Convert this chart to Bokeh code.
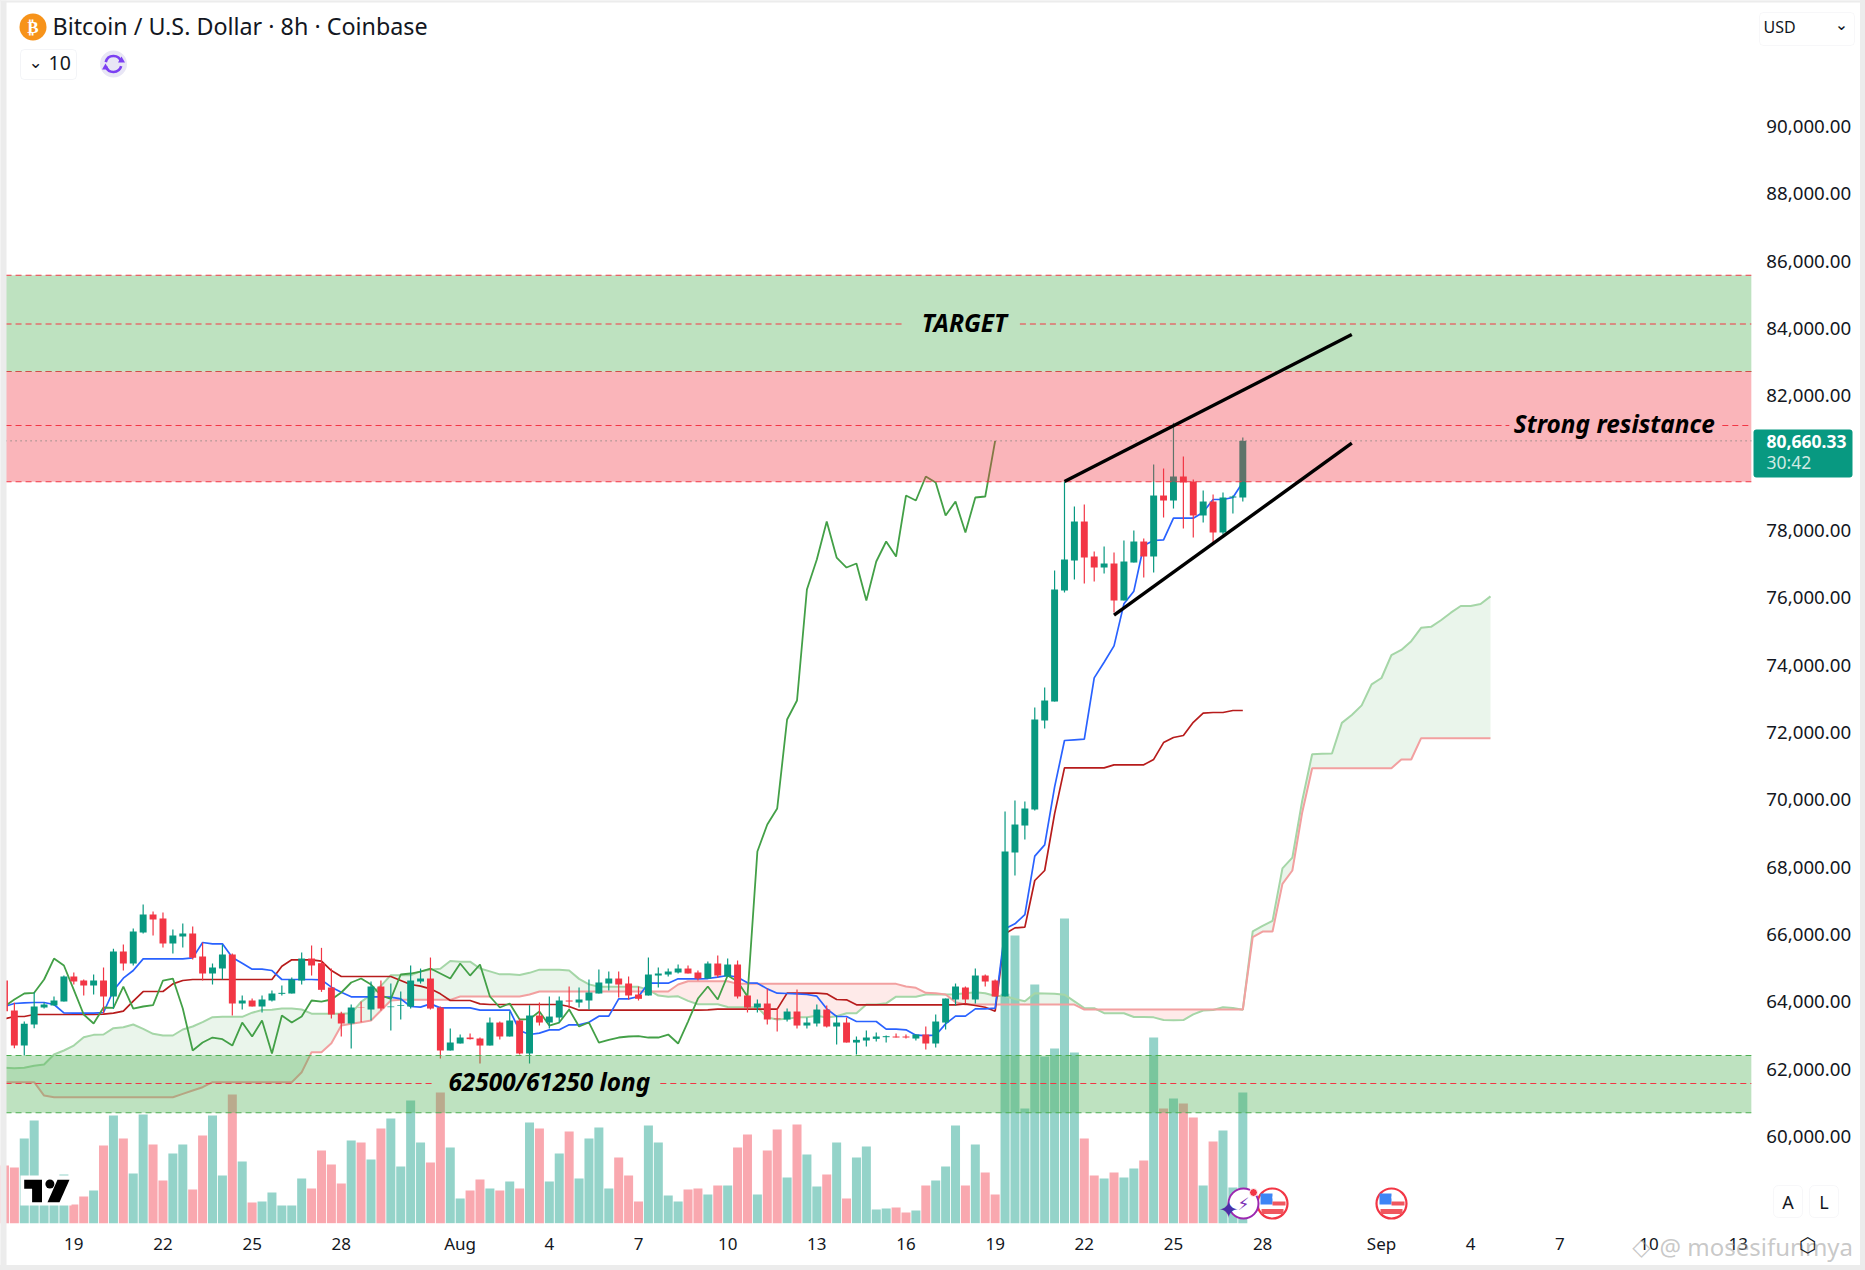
from bokeh.plotting import figure
from bokeh.models import (Range1d, LinearAxis, FixedTicker, NumeralTickFormatter, Label, BoxAnnotation)
from bokeh.embed import file_html
from bokeh.resources import INLINE
from bokeh.core.properties import value
import numpy as np

TITLE = "Bitcoin / U.S. Dollar · 8h · Coinbase"
LAST_PRICE = 80660.33

first_bar = -7
opens = [64633,63742,62702,63326,63831,63890,64009,64752,64633,64484,64633,64158,65494,65138,66059,66593,66474,65732,65940,66029,65346,64841,64989,65405,63950,64039,63861,64039,64237,64247,64633,65286,
65148,64425,63653,63356,63831,63771,64455,63841,63880,63861,64603,64692,63831,62554,62762,62940,62910,62702,63385,62970,63445,62465,63593,63385,63534,64039,63979,64039,64247,64544,64692,64544,64217,
64188,64781,64811,64871,64989,64871,64692,65138,64752,65108,64188,63831,63950,63504,63475,63712,63296,63356,63771,63267,63385,62791,62851,62900,62950,62970,62970,62910,63029,62762,63385,64069,
64425,64069,64781,64633,64158,68435,69236,69712,72355,72919,76216,77107,78265,77226,76899,77018,75919,77047,77671,77226,79037,78889,79602,79453,78444,78859,77939,78978,78978]
highs = [64650,63970,63415,64286,63980,64158,64782,64870,64663,64811,65019,65574,65702,66177,66890,66682,66653,66148,66326,66237,65762,65138,65702,65435,64188,64098,64188,64336,64484,64722,65465,65673,
65603,64989,63702,63920,64009,64603,64633,64544,64306,65079,64989,65316,63861,63207,63029,63059,62940,63534,63415,63712,63504,63900,63980,64158,64158,64455,64425,64663,64960,64900,64900,64752,64455,
65316,65019,64989,65108,65079,64930,65198,65375,65286,65227,64188,64069,64395,63801,63801,64365,63534,63920,63890,63593,63534,62970,63148,63089,63000,63059,63029,63029,63267,63623,64098,64544,
64455,64989,64811,64663,69652,69979,69949,72741,73335,76810,79453,78711,78770,77374,77523,77344,77701,77998,77760,79958,79839,81196,80196,79513,79186,79067,79127,79037,80760]
lows = [63700,62623,62405,63217,63801,63890,64009,64514,64188,64217,63643,63791,64930,65079,66029,65970,65613,65435,65613,65257,64633,64514,64663,63593,63772,63861,63682,64009,64188,64247,64514,64781,
64296,63504,62970,62613,63395,63445,63742,63148,63475,63801,64544,63772,62316,62554,62762,62881,62168,62702,62881,62970,62435,62168,63296,63207,63385,63801,63831,63771,64247,64336,64128,64069,64039,
64188,64425,64752,64841,64841,64633,64692,64722,64752,64098,63683,63683,63326,63118,63415,63207,63207,63267,63237,62732,62791,62435,62673,62821,62792,62940,62910,62851,62584,62643,63178,63890,
63950,63950,64455,64158,64158,67751,68821,69682,72117,72919,76157,76543,76424,76483,76721,75563,75919,77047,76602,76751,78384,78651,78057,77790,78236,77642,77879,78503,78859]
closes = [63722,62702,63346,63861,63920,64039,64752,64603,64484,64633,64158,65494,65138,66088,66593,66445,65732,65970,66029,65306,64841,65019,65405,63950,64039,63861,64069,64247,64267,64663,65286,65079,
64356,63623,63356,63831,63821,64455,63801,63861,63900,64633,64692,63801,62554,62792,62940,62891,62702,63385,62970,63445,62465,63593,63385,63563,64039,64009,64069,64277,64574,64692,64514,64188,64089,
64811,64841,64900,64989,64841,64692,65138,64781,65108,64158,63831,63950,63475,63484,63712,63296,63385,63771,63267,63385,62791,62871,62940,62970,62980,62940,62940,63029,62762,63415,64098,64455,
64069,64781,64603,64158,68464,69266,69741,72385,72949,76246,77137,78265,77196,76899,77018,75919,77077,77671,77226,79037,78889,79602,79424,78444,78859,77939,78978,79008,80660]
volumes = [173,167,254,308,100,100,146,56,80,98,233,323,254,149,326,236,128,209,236,101,263,323,143,386,185,62,65,92,53,53,134,104,218,176,119,248,242,191,284,314,170,368,242,182,392,227,74,98,131,104,98,125,104,302,284,125,209,275,134,254,287,104,197,
143,65,293,242,83,65,101,104,86,113,113,227,266,86,218,281,137,296,206,110,146,242,74,197,230,41,44,47,32,38,113,128,170,293,113,236,152,86,688,863,344,716,500,524,914,512,254,143,134,152,137,164,188,557,344,374,359,317,113,245,278,107,392]
tenkan = [63861,63950,63970,63980,63980,63920,63673,63663,63663,63663,63683,64336,64702,64930,65276,65276,65276,65276,65276,65306,65762,65722,65722,65316,65148,64970,64970,64930,64663,64663,64663,64663,64653,64435,64287,64148,64148,64148,64148,64138,64089,63861,63841,63940,63821,63821,63821,63821,63752,63752,63752,63752,63148,63029,63069,63168,63168,63316,63316,63395,63574,63574,64089,64089,64158,64554,64554,64554,64683,64683,64683,64692,64732,64781,64732,64564,64554,64385,64257,64247,64237,64217,64168,63792,63564,63564,63415,63415,63415,63188,63188,63168,63009,62999,63009,63346,63574,63574,63791,63791,63811,66167,66316,66593,68326,68662,70375,71761,71781,71800,73622,74087,74573,75820,76196,77552,77701,77721,78364,78364,78364,78542,78919,78919,78978,79433]
kijun = [63495,63564,63564,63623,63623,63623,63623,63623,63623,63623,63633,63663,63722,64019,64306,64306,64306,64534,64633,64663,64663,64663,64663,64663,64663,64663,64663,64663,65059,65247,65247,65247,65207,64930,64752,64752,64752,64752,64752,64752,64633,64514,64465,64385,64237,64039,64039,64039,63940,63920,63920,63920,63920,63920,63920,63920,63920,63861,63752,63752,63752,63752,63752,63752,63752,63752,63752,63752,63752,63752,63752,63762,63782,63782,63782,63782,63782,63782,63782,64257,64257,64257,64257,64237,64069,64059,63910,63910,63910,63910,63910,63910,63910,63910,63910,63910,63910,63940,63890,63840,63722,66019,66197,66217,67603,67900,69583,70949,70949,70949,70949,70949,71038,71038,71038,71038,71200,71700,71850,71910,72300,72573,72593,72593,72652,72652]
chikou = [63861,64069,64247,64267,64663,65286,65079,64356,63623,63356,63831,63821,64455,63801,63861,63900,64633,64692,63801,62554,62792,62940,62891,62702,63385,62970,63445,62465,63593,63385,63563,64039,64009,64069,64277,64574,64692,64514,64188,64089,64811,64841,64900,64989,64841,64692,65138,64781,65108,64158,63831,63950,63475,63484,63712,63296,63385,63771,63267,63385,62791,62871,62940,62970,62980,62940,62940,63029,62762,63415,64098,64455,64069,64781,64603,64158,68464,69266,69741,72385,72949,76246,77137,78265,77196,76899,77018,75919,77077,77671,77226,79037,78889,79602,79424,78444,78859,77939,78978,79008,80660]
senkou_a = [62039,62029,62039,62099,62138,62435,62554,62702,62950,63019,63029,63217,63247,63326,63197,63049,63000,63000,63178,63267,63395,63544,63554,63554,63554,
63678,63757,63767,63801,63801,63771,63648,63643,63643,63643,63658,63999,64212,64474,64791,64791,64791,64905,64954,64984,65212,65192,65192,64989,64905,64816,64816,64796,64861,64955,64955,64955,64930,64682,64519,64450,64450,64450,64450,64445,64361,64187,64153,64162,64029,63930,63930,63930,63846,63836,63836,63836,63534,63474,63494,63544,63544,63588,63534,63573,63663,63663,63920,63920,63955,64153,64153,64153,64217,64217,64217,64227,64257,64281,64257,64173,64173,64083,64019,64252,64247,64237,64212,64014,63816,63811,63662,63662,63662,63549,63549,63539,63459,63454,63459,63628,63742,63757,63840,63815,63766,66093,66256,66405,67964,68281,69979,71355,71365,71374,72285,72518,72805,73429,73617,74295,74450,74710,75107,75137,75332,75557,75756,75756,75815,76042]
senkou_b = [61613,61613,61613,61613,61217,61168,61168,61168,61168,61168,61168,61168,61168,61168,61168,61168,61168,61168,61267,61366,61465,61613,61613,61613,61613,61613,61613,61613,61613,61613,61910,62505,62505,62772,63296,63346,63395,63445,63742,64039,64059,64059,64059,64059,64059,64059,64158,64158,64158,64158,64158,64158,64158,64217,64306,64306,64306,64306,64306,64306,64306,64306,64306,64306,64306,64306,64306,64306,64514,64613,64613,64613,64613,64613,64534,64534,64534,64534,64534,64534,64534,64534,64534,64534,64534,64534,64534,64534,64534,64534,64534,64455,64415,64267,64257,64217,63990,63920,63920,63920,63920,63920,63920,63920,63920,63920,63920,63920,63920,63772,63772,63772,63772,63772,63772,63772,63772,63772,63772,63772,63772,63772,63772,63772,63772,63772,65920,66088,66088,67504,67900,69632,70939,70939,70939,70939,70939,70939,70939,70939,70939,71197,71197,71830,71830,71830,71830,71830,71830,71830,71830]

zone_target = [82720, 85580]
target_mid = 84130
zone_resist = [79444, 82720]
resist_mid = 81117
zone_long = [60704, 62406]
long_mid = 61574
wedge_upper = ([100, 129], [79454, 83819])
wedge_lower = ([105, 129], [75483, 80591])
price_ticks = [60000,62000,64000,66000,68000,70000,72000,74000,76000,78000,82000,84000,86000,88000,90000]
date_labels = {0:"19",9:"22",18:"25",27:"28",39:"Aug",48:"4",57:"7",66:"10",75:"13",84:"16",93:"19",102:"22",111:"25",120:"28",132:"Sep",141:"4",150:"7",159:"10",168:"13"}

GREEN, RED = "#089981", "#f23645"
W, H = 1860, 1265
XL, XR = -7.4, 180.35
YB, YT = 56169, 93739
CL, CR = -6.89, 169.33   # chart pane edges

p = figure(width=W, height=H, output_backend="svg", toolbar_location=None,
           x_range=Range1d(XL, XR), y_range=Range1d(YB, YT), x_axis_type=None, y_axis_type=None,
           min_border=0, background_fill_color="white", border_fill_color="white", outline_line_color=None)
p.grid.visible = False
p.extra_y_ranges = {"vol": Range1d(-127, 3668)}

def fx(px): return XL + px / W * (XR - XL)
def fy(py): return YT - py / H * (YT - YB)

bars = np.arange(first_bar, first_bar + len(closes))
o, h, l, c = map(np.array, (opens, highs, lows, closes))
up = c >= o

# volume
p.vbar(bars, 0.91, 0, np.array(volumes), y_range_name="vol",
       color=[GREEN if u else RED for u in up], alpha=0.43, line_color=None)

# cloud
ax = np.arange(first_bar, first_bar + len(senkou_a))
A, B = np.array(senkou_a, float), np.array(senkou_b, float)
p.varea(ax, A, np.minimum(A, B), fill_color="#43a047", fill_alpha=0.11)
p.varea(ax, B, np.minimum(A, B), fill_color="#f44336", fill_alpha=0.11)
p.line(ax, A, line_color="#a5d6a7", line_width=2)
p.line(ax, B, line_color="#f2a0a0", line_width=2)

# lines
p.line(bars, kijun, line_color="#b71c1c", line_width=1.7)
p.line(bars, tenkan, line_color="#2962ff", line_width=1.7)
p.line(np.arange(first_bar, first_bar + len(chikou)), chikou, line_color="#43a047", line_width=1.8)

# candles
cols = [GREEN if u else RED for u in up]
p.segment(bars, l, bars, h, line_color=cols, line_width=1.2)
p.vbar(bars, 0.7, np.minimum(o, c), np.maximum(o, c), color=cols, line_color=None)

# price line
p.line([CL, CR], [LAST_PRICE, LAST_PRICE], line_color=GREEN, line_width=1, line_dash="1 4")

# zones
for z, col in ((zone_target, "#4caf50"), (zone_resist, RED), (zone_long, "#4caf50")):
    p.quad(left=CL, right=CR, bottom=z[0], top=z[1], fill_color=col, fill_alpha=0.37 if col == RED else 0.36, line_color=None)

def hline(x0, x1, y, col, alpha=1.0):
    p.line([x0, x1], [y, y], line_color=col, line_width=1.1, line_dash="6 4", line_alpha=alpha)

hline(CL, CR, zone_target[1], RED)
hline(CL, CR, zone_target[0], "#4caf50")
hline(CL, CR, zone_resist[1], RED, 0.8)
hline(CL, CR, zone_resist[0], RED)
hline(CL, CR, zone_long[0], "#4caf50")
hline(CL, CR, zone_long[1], "#4caf50")
hline(CL, 83.9, target_mid, RED); hline(95.5, CR, target_mid, RED)
hline(CL, 144.9, resist_mid, RED); hline(166.4, CR, resist_mid, RED)
hline(CL, 36.4, long_mid, RED); hline(59.2, CR, long_mid, RED)

# wedge
p.line(*wedge_upper, line_color="black", line_width=3.4)
p.line(*wedge_lower, line_color="black", line_width=3.4)

# annotations
TFONT = value("Noto Sans")
for xv, yv, t in ((89.9, target_mid, "TARGET"), (155.5, resist_mid, "Strong resistance"), (48, long_mid, "62500/61250 long")):
    p.text([xv], [yv], text=[t], text_font=TFONT, text_font_size="24.4px", text_font_style="bold italic",
           text_color="black", text_align="center", text_baseline="middle", y_offset=-2)

# axes
ay = LinearAxis(ticker=FixedTicker(ticks=price_ticks), formatter=NumeralTickFormatter(format="0,0.00"))
ay.axis_line_color = None; ay.major_tick_line_color = None; ay.minor_tick_line_color = None
ay.major_tick_out = 0; ay.major_tick_in = 0
ay.major_label_standoff = 15
ay.major_label_text_font = "Noto Sans"; ay.major_label_text_font_size = "18.7px"; ay.major_label_text_color = "#131722"
ay.fixed_location = CR
p.add_layout(ay, "right")
ax_b = LinearAxis(ticker=FixedTicker(ticks=list(date_labels)), major_label_overrides=date_labels)
ax_b.axis_line_color = None; ax_b.major_tick_line_color = None; ax_b.minor_tick_line_color = None
ax_b.major_tick_out = 0; ax_b.major_tick_in = 0
ax_b.major_label_standoff = 6
ax_b.major_label_text_font = "Noto Sans"; ax_b.major_label_text_font_size = "17px"; ax_b.major_label_text_color = "#131722"
ax_b.fixed_location = fy(1225)
p.add_layout(ax_b, "below")

def box(x0, y0, x1, y1, fill="white", line="#d8dbe3", r=4, alpha=1):
    p.add_layout(BoxAnnotation(left=x0, right=x1, top=y0, bottom=y1, left_units="canvas", right_units="canvas",
                               top_units="canvas", bottom_units="canvas", fill_color=fill, fill_alpha=alpha,
                               line_color=line, border_radius=r, level="overlay"))

def lab(x, y, t, size=18, col="#131722", font="Noto Sans", align="left", style="normal", alpha=1):
    p.add_layout(Label(x=x, y=y, x_units="canvas", y_units="canvas", text=t, text_font=font,
                       text_font_size=f"{size}px", text_color=col, text_align=align, text_baseline="middle",
                       text_font_style=style, text_alpha=alpha, level="overlay"))

# page edge strips
box(0, 0, 6, H, fill="#ececec", line=None, r=0)
box(0, 0, W, 2, fill="#ececec", line=None, r=0)

# header
lab(52, 25, TITLE, 23.3)
p.scatter([fx(32.5)], [fy(26.5)], size=27, color="#f7931a", line_color=None)
lab(32.5, 26, "₿", 17, "white", "DejaVu Sans", "center", "bold")
box(20, 49, 76, 79, r=4)
lab(48, 62, "10", 19.5)
lab(35, 61, "⌄", 17, font="DejaVu Sans", align="center")
p.scatter([fx(113)], [fy(63.5)], size=27, color="#e8e6f5", line_color=None)
p.arc([fx(113)], [fy(63.5)], radius=8, radius_units="screen", start_angle=0.3, end_angle=2.9, line_color="#7b3ff2", line_width=2.6)
p.arc([fx(113)], [fy(63.5)], radius=8, radius_units="screen", start_angle=3.45, end_angle=6.0, line_color="#7b3ff2", line_width=2.6)
p.scatter([fx(121), fx(105)], [fy(60), fy(67)], size=7, marker="triangle", color="#7b3ff2", line_color=None)

# currency box
box(1759, 12, 1854, 45, line="#e4e6ec", r=4)
lab(1763, 26, "USD", 16)
lab(1841, 24, "⌄", 16, font="DejaVu Sans", align="center")

# price tag
box(1753, 429, 1852, 477, fill=GREEN, line=None, r=3)
lab(1766, 441, "80,660.33", 17.5, "white", style="bold")
lab(1766, 461, "30:42", 17.5, "#cfe9e3")

# A L buttons
box(1773, 1185, 1802, 1217, line="#e4e6ec", r=5)
lab(1787.5, 1201, "A", 18, align="center")
box(1809, 1185, 1838, 1217, line="#e4e6ec", r=5)
lab(1823.5, 1201, "L", 18, align="center")

# TradingView logo
p.quad(left=fx(20), right=fx(71), top=fy(1175), bottom=fy(1205), fill_color="white", line_color=None)
p.patch([fx(23.7), fx(41.5), fx(41.5), fx(31.6), fx(31.6), fx(23.7)],
        [fy(1179.3), fy(1179.3), fy(1201.7), fy(1201.7), fy(1188.3), fy(1188.3)], fill_color="black", line_color=None)
p.patch([fx(69), fx(57), fx(47), fx(59)], [fy(1179.3), fy(1179.3), fy(1201.7), fy(1201.7)], fill_color="black", line_color=None)
p.scatter([fx(49.4)], [fy(1183.5)], size=9, color="black", line_color=None)

# event icons
for cx in (1272, 1391):
    p.scatter([fx(cx)], [fy(1203)], size=30, fill_color="white", line_color=RED, line_width=2.2)
    p.quad(left=fx(cx-12), right=fx(cx), top=fy(1193), bottom=fy(1204), fill_color="#3d85f5", line_color=None)
    p.segment([fx(cx)], [fy(1197)], [fx(cx+12)], [fy(1197)], line_color="white", line_width=2)
    p.segment([fx(cx)], [fy(1203)], [fx(cx+13)], [fy(1203)], line_color="#f0575f", line_width=4)
    p.segment([fx(cx-11)], [fy(1211)], [fx(cx+11)], [fy(1211)], line_color="#f0575f", line_width=5)
p.scatter([fx(1243)], [fy(1203)], size=30, fill_color="white", line_color="#9c27b0", line_width=2)
lab(1243, 1203, "⚡", 17, "#7b2fb5", "DejaVu Sans", "center")
p.scatter([fx(1253)], [fy(1192)], size=8, color=RED, line_color="white")
lab(1228, 1209, "✦", 24, "#4a2fa8", "DejaVu Sans", "center")

# watermark & bottom right
lab(1641, 1246, "◇", 24, "#9a9a9a", "DejaVu Sans", "center", alpha=0.55)
lab(1659, 1246, "@ mosesifunmya", 24, "#9a9a9a", alpha=0.55)
lab(1807, 1244, "⬡", 20, "#131722", "DejaVu Sans", "center")

html = file_html(p, INLINE)
html = html.replace("</head>", "<style>html,body{background:#ececec}</style></head>")
open("out.html", "w").write(html)
